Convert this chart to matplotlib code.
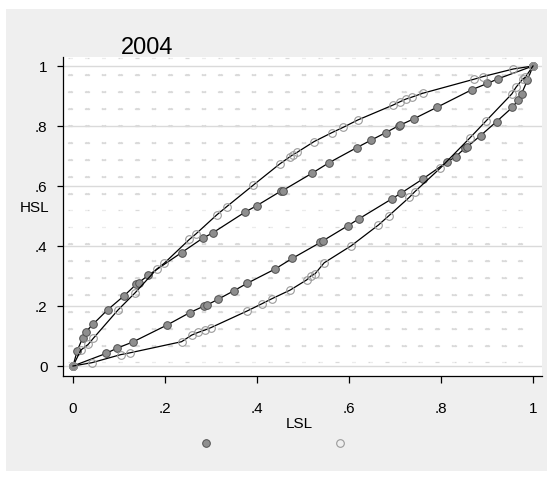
import matplotlib
matplotlib.use('Agg')
import matplotlib.pyplot as plt
import numpy as np
from matplotlib.path import Path
from matplotlib.patches import Rectangle
from matplotlib.lines import Line2D

plt.rcParams['font.family'] = ['Liberation Sans', 'DejaVu Sans']

# curve 1: filled markers, above the diagonal
lsl_a = [0, 0.009, 0.021, 0.028, 0.044, 0.075, 0.111, 0.138, 0.143, 0.164, 0.236, 0.282,
         0.304, 0.374, 0.399, 0.452, 0.456, 0.519, 0.557, 0.617, 0.647, 0.680, 0.708,
         0.711, 0.741, 0.792, 0.867, 0.901, 0.925, 1.0]
hsl_a = [0, 0.050, 0.094, 0.114, 0.140, 0.187, 0.234, 0.273, 0.278, 0.303, 0.378, 0.426,
         0.444, 0.513, 0.534, 0.583, 0.585, 0.642, 0.678, 0.728, 0.752, 0.778, 0.801,
         0.803, 0.824, 0.863, 0.921, 0.942, 0.958, 1.0]
# curve 2: hollow markers, above the diagonal
lsl_b = [0, 0.017, 0.033, 0.044, 0.098, 0.135, 0.182, 0.198, 0.253, 0.267, 0.312, 0.334,
         0.392, 0.449, 0.472, 0.479, 0.488, 0.524, 0.563, 0.588, 0.619, 0.696, 0.711,
         0.724, 0.738, 0.760, 0.872, 0.892, 0.957, 1.0]
hsl_b = [0, 0.053, 0.072, 0.092, 0.187, 0.244, 0.323, 0.342, 0.422, 0.440, 0.503, 0.531,
         0.603, 0.673, 0.698, 0.705, 0.713, 0.748, 0.778, 0.796, 0.820, 0.870, 0.881,
         0.890, 0.897, 0.909, 0.956, 0.965, 0.990, 1.0]
# curve 3: filled markers, below the diagonal
lsl_c = [0, 0.072, 0.095, 0.130, 0.205, 0.254, 0.285, 0.291, 0.316, 0.350, 0.379, 0.439,
         0.477, 0.538, 0.544, 0.597, 0.622, 0.693, 0.713, 0.760, 0.812, 0.832, 0.852,
         0.857, 0.886, 0.921, 0.955, 0.968, 0.975, 0.988, 1.0]
hsl_c = [0, 0.042, 0.059, 0.080, 0.137, 0.178, 0.200, 0.203, 0.223, 0.251, 0.276, 0.323,
         0.359, 0.412, 0.418, 0.467, 0.491, 0.557, 0.576, 0.623, 0.679, 0.698, 0.726,
         0.731, 0.768, 0.815, 0.862, 0.887, 0.907, 0.953, 1.0]
# curve 4: hollow markers, below the diagonal
lsl_d = [0, 0.041, 0.104, 0.124, 0.236, 0.258, 0.272, 0.287, 0.300, 0.378, 0.410, 0.432,
         0.472, 0.508, 0.517, 0.526, 0.546, 0.605, 0.664, 0.686, 0.731, 0.743, 0.798,
         0.862, 0.898, 0.954, 0.963, 0.978, 0.983, 1.0]
hsl_d = [0, 0.011, 0.038, 0.044, 0.081, 0.103, 0.112, 0.120, 0.128, 0.183, 0.207, 0.224,
         0.253, 0.287, 0.300, 0.307, 0.344, 0.401, 0.470, 0.500, 0.562, 0.581, 0.659,
         0.759, 0.817, 0.907, 0.929, 0.957, 0.962, 1.0]

ticks = [0, 0.2, 0.4, 0.6, 0.8, 1]
tick_labels = ['0', '.2', '.4', '.6', '.8', '1']

W, H = 551, 478
fig = plt.figure(figsize=(W / 100, H / 100), dpi=100)
fig.patch.set_facecolor('white')
# stata style outer panel
fig.add_artist(Rectangle((6 / W, 1 - 471 / H), 541 / W, 462 / H, transform=fig.transFigure,
                         facecolor='#efefef', edgecolor='none', zorder=-10))

ax = fig.add_axes([63 / W, 1 - 376 / H, 479 / W, 319 / H])
ax.set_facecolor('white')
ax.set_xlim(-10 / 460, 469 / 460)
ax.set_ylim(-10 / 300, 309 / 300)

# background texture of faint marks
tex = Path([(0, 1), (0, 0), (1, 0), (1, 1), (1, 0), (2, 0), (2, 1),
            (3, 1), (3, 0), (4, 0), (4, 1), (4, 0), (5, 0), (5, 1)],
           [Path.MOVETO] + [Path.LINETO] * 6 + [Path.MOVETO] + [Path.LINETO] * 6)
tx = (np.arange(68.3, 535, 16.67) - 63) / 479
ty = (376 - np.arange(58.3, 370, 16.9)) / 319
gx, gy = np.meshgrid(tx, ty)
ax.scatter(gx.ravel(), gy.ravel(), marker=tex, s=30, facecolors='none',
           edgecolors='#dadada', linewidths=0.9, transform=ax.transAxes, zorder=0)

for t in ticks:
    ax.axhline(t, color='#dadada', lw=1.0, zorder=1)

filled = dict(marker='o', ms=5.5, mfc='#8e8e8e', mec='#505050', mew=0.7)
hollow = dict(marker='o', ms=5.5, mfc='none', mec='#9a9a9a', mew=0.8)
ax.plot(lsl_a, hsl_a, color='black', lw=0.9, zorder=3, **filled)
ax.plot(lsl_b, hsl_b, color='black', lw=0.9, zorder=3, **hollow)
ax.plot(lsl_c, hsl_c, color='black', lw=0.9, zorder=3, **filled)
ax.plot(lsl_d, hsl_d, color='black', lw=0.9, zorder=3, **hollow)

ax.spines['top'].set_visible(False)
ax.spines['right'].set_visible(False)
ax.spines['left'].set_linewidth(0.9)
ax.spines['bottom'].set_linewidth(0.9)
ax.set_xticks(ticks)
ax.set_xticklabels(tick_labels)
ax.set_yticks(ticks)
ax.set_yticklabels(tick_labels)
ax.tick_params(axis='x', length=5, width=0.9, pad=14, labelsize=11)
ax.tick_params(axis='y', length=4, width=0.9, pad=7, labelsize=11)

fig.text(299 / W, 1 - 424 / H, 'LSL', ha='center', va='center', fontsize=11)
fig.text(35 / W, 1 - 208 / H, 'HSL', ha='center', va='center', fontsize=11)
fig.text(147 / W, 1 - 48 / H, '2004', ha='center', va='center', fontsize=17)

handles = [Line2D([], [], ls='none', **filled), Line2D([], [], ls='none', **hollow)]
fig.legend(handles, ['', ''], ncol=2, loc='center', frameon=False, numpoints=1,
           handlelength=2, handletextpad=0.8, columnspacing=6.85, fontsize=10,
           bbox_to_anchor=(278.6 / W, 1 - 444 / H))

fig.savefig('out.png', dpi=100, facecolor=fig.get_facecolor())
